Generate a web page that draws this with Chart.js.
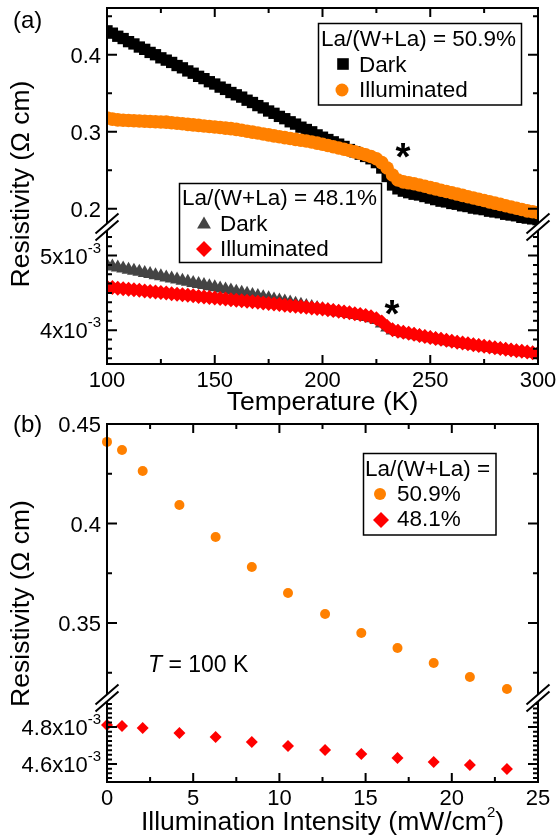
<!DOCTYPE html>
<html>
<head>
<meta charset="utf-8">
<title>Resistivity vs temperature and illumination</title>
<script src="https://cdn.jsdelivr.net/npm/chart.js@4.4.1/dist/chart.umd.min.js"></script>
<style>
  html, body { margin: 0; padding: 0; background: #fff; }
  #page { position: relative; width: 560px; height: 840px; overflow: hidden; }
  #chartA { position: absolute; left: 0; top: 0; }
  #chartB { position: absolute; left: 0; top: 400px; }
</style>
</head>
<body>
<div id="page">
  <canvas id="chartA" width="560" height="430"></canvas>
  <canvas id="chartB" width="560" height="440"></canvas>
</div>
<script>
// ---- panel (a): resistivity vs temperature ----
const tempK = [100, 102.5, 105, 107.5, 110, 112.5, 115, 117.5, 120, 122.5, 125, 127.5, 130, 132.5, 135, 137.5,
  140, 142.5, 145, 147.5, 150, 152.5, 155, 157.5, 160, 162.5, 165, 167.5, 170, 172.5, 175, 177.5,
  180, 182.5, 185, 187.5, 190, 192.5, 195, 197.5, 200, 202.5, 205, 207.5, 210, 212.5, 215, 217.5,
  220, 222.5, 225, 227.5, 230, 232.5, 235, 237.5, 240, 242.5, 245, 247.5, 250, 252.5, 255, 257.5,
  260, 262.5, 265, 267.5, 270, 272.5, 275, 277.5, 280, 282.5, 285, 287.5, 290, 292.5, 295, 297.5, 300];

// La/(W+La) = 50.9 %, ohm cm
const dark509 = [0.431, 0.428, 0.424, 0.421, 0.417, 0.414, 0.410, 0.407, 0.403, 0.400, 0.396, 0.393, 0.390, 0.386, 0.383, 0.379,
  0.376, 0.372, 0.369, 0.365, 0.362, 0.358, 0.355, 0.351, 0.348, 0.345, 0.341, 0.338, 0.334, 0.331, 0.327, 0.324,
  0.320, 0.317, 0.313, 0.310, 0.306, 0.303, 0.300, 0.296, 0.293, 0.290, 0.287, 0.284, 0.281, 0.277, 0.274, 0.271,
  0.268, 0.265, 0.260, 0.253, 0.242, 0.231, 0.226, 0.223, 0.221, 0.219, 0.218, 0.216, 0.214, 0.212, 0.210, 0.209,
  0.207, 0.206, 0.204, 0.203, 0.201, 0.200, 0.199, 0.197, 0.196, 0.195, 0.193, 0.192, 0.191, 0.189, 0.188, 0.187, 0.186];
const illum509 = [0.318, 0.3165, 0.3155, 0.315, 0.3146, 0.3143, 0.314, 0.3137, 0.3134, 0.3131, 0.3128, 0.3125, 0.3118, 0.3111, 0.3104, 0.3097,
  0.309, 0.3083, 0.3076, 0.3069, 0.3062, 0.3055, 0.3048, 0.3041, 0.3032, 0.302, 0.3008, 0.2996, 0.2984, 0.2972, 0.296, 0.2947,
  0.2935, 0.2924, 0.2913, 0.2902, 0.2891, 0.288, 0.2868, 0.2853, 0.2838, 0.2822, 0.2806, 0.279, 0.2774, 0.2757, 0.274, 0.2722,
  0.2702, 0.268, 0.265, 0.26, 0.253, 0.244, 0.2375, 0.235, 0.2338, 0.2326, 0.231, 0.2293, 0.2276, 0.2259, 0.2242, 0.2226,
  0.2209, 0.2192, 0.2175, 0.2158, 0.2142, 0.2125, 0.2108, 0.2091, 0.2075, 0.2058, 0.2041, 0.2024, 0.2008, 0.1991, 0.1974, 0.1963, 0.1952];

// La/(W+La) = 48.1 %, in units of 1e-3 ohm cm
const dark481 = [4.870, 4.855, 4.841, 4.826, 4.811, 4.796, 4.782, 4.767, 4.752, 4.737, 4.723, 4.708, 4.693, 4.678, 4.664, 4.649,
  4.634, 4.619, 4.605, 4.590, 4.575, 4.560, 4.546, 4.531, 4.516, 4.501, 4.487, 4.472, 4.457, 4.442, 4.428, 4.413,
  4.398, 4.384, 4.370, 4.355, 4.340, 4.325, 4.310, 4.296, 4.281, 4.268, 4.255, 4.242, 4.229, 4.216, 4.203, 4.190,
  4.176, 4.160, 4.135, 4.090, 4.035, 3.995, 3.975, 3.960, 3.946, 3.932, 3.918, 3.905, 3.891, 3.878, 3.865, 3.852,
  3.839, 3.827, 3.816, 3.805, 3.794, 3.783, 3.772, 3.762, 3.752, 3.742, 3.733, 3.723, 3.714, 3.705, 3.696, 3.687, 3.678];
const illum481 = [4.578, 4.571, 4.563, 4.556, 4.549, 4.541, 4.534, 4.527, 4.519, 4.512, 4.505, 4.497, 4.490, 4.483, 4.475, 4.468,
  4.461, 4.453, 4.446, 4.439, 4.431, 4.424, 4.417, 4.409, 4.402, 4.395, 4.387, 4.380, 4.373, 4.365, 4.358, 4.351,
  4.343, 4.336, 4.329, 4.321, 4.314, 4.307, 4.299, 4.292, 4.284, 4.275, 4.265, 4.255, 4.244, 4.233, 4.222, 4.210,
  4.197, 4.180, 4.155, 4.110, 4.050, 4.005, 3.985, 3.972, 3.958, 3.944, 3.930, 3.917, 3.903, 3.890, 3.877, 3.864,
  3.851, 3.839, 3.828, 3.817, 3.806, 3.795, 3.784, 3.774, 3.764, 3.754, 3.745, 3.735, 3.726, 3.717, 3.708, 3.699, 3.690];

// ---- panel (b): resistivity vs illumination intensity at T = 100 K ----
const intensity = [0, 0.87, 2.07, 4.2, 6.3, 8.4, 10.5, 12.65, 14.75, 16.85, 18.95, 21.05, 23.2];
const res509 = [0.4410, 0.4369, 0.4264, 0.4093, 0.3932, 0.3781, 0.3651, 0.3545, 0.3450, 0.3374, 0.3299, 0.3229, 0.3168];
const res481 = [4.811, 4.805, 4.795, 4.768, 4.746, 4.719, 4.697, 4.676, 4.654, 4.632, 4.611, 4.595, 4.573]; // 1e-3 ohm cm

// ticks
const tempTicks = [100, 150, 200, 250, 300];
const tempTickLabels = ['100', '150', '200', '250', '300'];
const intenTicks = [0, 5, 10, 15, 20, 25];
const intenTickLabels = ['0', '5', '10', '15', '20', '25'];
const resTicksA = [0.2, 0.3, 0.4];
const resTickLabelsA = ['0.2', '0.3', '0.4'];
const resLowTicksA = [4, 5];
const resLowTickLabelsA = ['4x10', '5x10'];
const resTicksB = [0.35, 0.4, 0.45];
const resTickLabelsB = ['0.35', '0.4', '0.45'];
const resLowTicksB = [4.6, 4.8];
const resLowTickLabelsB = ['4.6x10', '4.8x10'];

const ORANGE = '#ff8000';
const RED = '#ff0000';
const BLACK = '#000000';
const GRAY = '#444444';
const SANS = '"Liberation Sans", Arial, sans-serif';

// min/max of a linear scale so that v1 lands on pixel p1 and v2 on p2
const span = (v1, p1, v2, p2, top, bottom) => {
  const k = (v1 - v2) / (p1 - p2);
  return { min: v1 + (bottom - p1) * k, max: v1 + (top - p1) * k };
};

const valuesIn = (min, max, step) => {
  const out = [];
  for (let k = Math.ceil(min / step - 1e-9); k <= Math.floor(max / step + 1e-9); k++) out.push(+(k * step).toFixed(6));
  return out;
};
const hasValue = (list, v) => list.some((m) => Math.abs(m - v) < 1e-6);
const fontOf = (p) => (p.style || '') + ' ' + p.size + 'px ' + SANS;

function rich(ctx, parts, x, y, align) {
  let w = 0;
  parts.forEach((p) => { ctx.font = fontOf(p); p.w = ctx.measureText(p.t).width; w += p.w; });
  let cx = align === 'right' ? x - w : align === 'center' ? x - w / 2 : x;
  ctx.textAlign = 'left';
  ctx.textBaseline = 'alphabetic';
  parts.forEach((p) => { ctx.font = fontOf(p); ctx.fillText(p.t, cx, y + (p.dy || 0)); cx += p.w; });
}

function yTitle(ctx, x, y) {
  ctx.save();
  ctx.translate(x, y);
  ctx.rotate(-Math.PI / 2);
  rich(ctx, [{ t: 'Resistivity (\u03A9 cm)', size: 26.5 }], 0, 0, 'center');
  ctx.restore();
}

function star(ctx, cx, cy) {
  ctx.font = 'bold 100px ' + SANS;
  let m = ctx.measureText('*');
  const size = 100 * 15 / (m.actualBoundingBoxRight + m.actualBoundingBoxLeft);
  ctx.font = 'bold ' + size + 'px ' + SANS;
  m = ctx.measureText('*');
  ctx.textAlign = 'left';
  ctx.textBaseline = 'alphabetic';
  ctx.fillText('*', cx - (m.actualBoundingBoxRight - m.actualBoundingBoxLeft) / 2,
    cy - (m.actualBoundingBoxDescent - m.actualBoundingBoxAscent) / 2);
}

function marker(ctx, style, x, y, r, color) {
  ctx.fillStyle = color;
  ctx.beginPath();
  if (style === 'rect') ctx.rect(x - r, y - r, 2 * r, 2 * r);
  else if (style === 'circle') ctx.arc(x, y, r, 0, 2 * Math.PI);
  else if (style === 'triangle') {
    ctx.moveTo(x, y - r); ctx.lineTo(x + r * 0.866, y + r / 2); ctx.lineTo(x - r * 0.866, y + r / 2); ctx.closePath();
  } else {
    ctx.moveTo(x, y - r); ctx.lineTo(x + r, y); ctx.lineTo(x, y + r); ctx.lineTo(x - r, y); ctx.closePath();
  }
  ctx.fill();
  ctx.fillStyle = '#000';
}

function box(ctx, x, y, w, h) {
  ctx.lineWidth = 1.5;
  ctx.strokeStyle = '#000';
  ctx.strokeRect(x, y, w, h);
}

function breakMark(ctx, x, y) {
  const dx = 11.5, dy = 10, g = 3.5;
  ctx.save();
  ctx.fillStyle = '#fff';
  ctx.beginPath();
  ctx.moveTo(x - dx, y + dy - g); ctx.lineTo(x + dx, y - dy - g);
  ctx.lineTo(x + dx, y - dy + g); ctx.lineTo(x - dx, y + dy + g);
  ctx.closePath();
  ctx.fill();
  ctx.strokeStyle = '#000';
  ctx.lineWidth = 2;
  ctx.beginPath();
  ctx.moveTo(x - dx, y + dy - g); ctx.lineTo(x + dx, y - dy - g);
  ctx.moveTo(x - dx, y + dy + g); ctx.lineTo(x + dx, y - dy + g);
  ctx.stroke();
  ctx.restore();
}

// inward ticks on all four sides, a broken y axis, tick labels and the extras of each panel
function makeFrame(cfg) {
  return {
    id: 'frame' + cfg.name,
    afterDatasetsDraw(chart) {
      const { ctx, chartArea: a, scales } = chart;
      const xs = scales.x;
      const brk = cfg.breakAt;
      ctx.save();
      ctx.strokeStyle = '#000';
      ctx.lineWidth = 2;
      ctx.beginPath();
      ctx.moveTo(a.left - 1, a.top); ctx.lineTo(a.right + 1, a.top);
      ctx.moveTo(a.left - 1, a.bottom); ctx.lineTo(a.right + 1, a.bottom);
      [a.left, a.right].forEach((x) => {
        ctx.moveTo(x, a.top); ctx.lineTo(x, brk - 4);
        ctx.moveTo(x, brk + 4); ctx.lineTo(x, a.bottom);
      });
      valuesIn(xs.min, xs.max, cfg.xMinorStep).forEach((v) => {
        const px = xs.getPixelForValue(v);
        const len = hasValue(cfg.xMajor, v) ? 9 : 5;
        ctx.moveTo(px, a.bottom); ctx.lineTo(px, a.bottom - len);
        ctx.moveTo(px, a.top); ctx.lineTo(px, a.top + len);
      });
      cfg.ySegs.forEach((seg) => {
        const sc = scales[seg.id];
        const lo = seg.upper ? a.top : brk + 4;
        const hi = seg.upper ? brk - 4 : a.bottom;
        valuesIn(sc.min, sc.max, seg.minorStep).forEach((v) => {
          const py = sc.getPixelForValue(v);
          if (py < lo - 0.5 || py > hi + 0.5) return;
          const len = hasValue(seg.major, v) ? 10 : 5;
          ctx.moveTo(a.left, py); ctx.lineTo(a.left + len, py);
          ctx.moveTo(a.right, py); ctx.lineTo(a.right - len, py);
        });
      });
      ctx.stroke();
      breakMark(ctx, a.left, brk);
      breakMark(ctx, a.right, brk);

      ctx.fillStyle = '#000';
      cfg.xMajor.forEach((v, i) => {
        rich(ctx, [{ t: cfg.xLabels[i], size: 22 }], xs.getPixelForValue(v), a.bottom + 23, 'center');
      });
      cfg.ySegs.forEach((seg) => {
        const sc = scales[seg.id];
        seg.major.forEach((v, i) => {
          const parts = [{ t: seg.labels[i], size: 22 }];
          if (seg.exp) parts.push({ t: seg.exp, size: 15, dy: -11 });
          rich(ctx, parts, a.left - 6, sc.getPixelForValue(v) + 8, 'right');
        });
      });
      cfg.decorate(ctx, a);
      ctx.restore();
    }
  };
}

const pointSet = (label, xs, ys, axis, style, r, color, order, clip) => ({
  label,
  data: xs.map((x, i) => ({ x, y: ys[i] })),
  yAxisID: axis,
  pointStyle: style,
  pointRadius: r,
  pointHoverRadius: r,
  pointBackgroundColor: color,
  pointBorderWidth: 0,
  showLine: false,
  order,
  clip
});

const baseOptions = (padding, scales) => ({
  responsive: false,
  animation: false,
  devicePixelRatio: 1,
  events: [],
  layout: { padding },
  plugins: { legend: { display: false }, tooltip: { enabled: false } },
  scales
});

// ---------- panel (a) ----------
const areaA = { top: 6, bottom: 364 };
const clipA = { left: 0, right: 0, top: false, bottom: false };
new Chart(document.getElementById('chartA'), {
  type: 'scatter',
  data: {
    datasets: [
      pointSet('50.9% Illuminated', tempK, illum509, 'yTop', 'circle', 6.8, ORANGE, 1, clipA),
      pointSet('50.9% Dark', tempK, dark509, 'yTop', 'rect', 8, BLACK, 2, clipA),
      pointSet('48.1% Illuminated', tempK, illum481, 'yBot', 'rectRot', 7.5, RED, 1, clipA),
      pointSet('48.1% Dark', tempK, dark481, 'yBot', 'triangle', 8, GRAY, 2, clipA)
    ]
  },
  options: baseOptions({ left: 107, right: 22, top: areaA.top, bottom: 430 - areaA.bottom }, {
    x: { type: 'linear', min: 100, max: 300, display: false },
    yTop: { type: 'linear', display: false, ...span(0.4, 53, 0.2, 208, areaA.top, areaA.bottom) },
    yBot: { type: 'linear', display: false, ...span(5, 255, 4, 330, areaA.top, areaA.bottom) }
  }),
  plugins: [makeFrame({
    name: 'A',
    breakAt: 227,
    xMajor: tempTicks, xLabels: tempTickLabels, xMinorStep: 25,
    ySegs: [
      { id: 'yTop', upper: true, major: resTicksA, labels: resTickLabelsA, minorStep: 0.05 },
      { id: 'yBot', upper: false, major: resLowTicksA, labels: resLowTickLabelsA, exp: '-3', minorStep: 0.125 }
    ],
    decorate(ctx, a) {
      rich(ctx, [{ t: 'Temperature (K)', size: 26.5 }], (a.left + a.right) / 2, 410, 'center');
      yTitle(ctx, 29, 184);
      rich(ctx, [{ t: '(a)', size: 24 }], 13, 28, 'left');

      box(ctx, 318.5, 23.5, 203, 81.5);
      rich(ctx, [{ t: 'La/(W+La) = 50.9%', size: 22.5 }], 321, 46, 'left');
      marker(ctx, 'rect', 343, 64, 5.8, BLACK);
      rich(ctx, [{ t: 'Dark', size: 22.5 }], 359, 72, 'left');
      marker(ctx, 'circle', 342, 90, 6.5, ORANGE);
      rich(ctx, [{ t: 'Illuminated', size: 22.5 }], 359, 97, 'left');

      box(ctx, 179.5, 183.5, 202, 79);
      rich(ctx, [{ t: 'La/(W+La) = 48.1%', size: 22.5 }], 182, 205, 'left');
      marker(ctx, 'triangle', 204, 224.6, 8, GRAY);
      rich(ctx, [{ t: 'Dark', size: 22.5 }], 220, 231, 'left');
      marker(ctx, 'diamond', 204, 249, 8, RED);
      rich(ctx, [{ t: 'Illuminated', size: 22.5 }], 220, 256, 'left');

      star(ctx, 403, 150);
      star(ctx, 392, 307);
    }
  })]
});

// ---------- panel (b) ----------
const areaB = { top: 24, bottom: 382 };
new Chart(document.getElementById('chartB'), {
  type: 'scatter',
  data: {
    datasets: [
      pointSet('50.9%', intensity, res509, 'yTop', 'circle', 5, ORANGE, 1, false),
      pointSet('48.1%', intensity, res481, 'yBot', 'rectRot', 6, RED, 1, false)
    ]
  },
  options: baseOptions({ left: 107, right: 22, top: areaB.top, bottom: 440 - areaB.bottom }, {
    x: { type: 'linear', min: 0, max: 25, display: false },
    yTop: { type: 'linear', display: false, ...span(0.45, 24, 0.35, 223, areaB.top, areaB.bottom) },
    yBot: { type: 'linear', display: false, ...span(4.8, 327, 4.6, 364, areaB.top, areaB.bottom) }
  }),
  plugins: [makeFrame({
    name: 'B',
    breakAt: 298,
    xMajor: intenTicks, xLabels: intenTickLabels, xMinorStep: 2.5,
    ySegs: [
      { id: 'yTop', upper: true, major: resTicksB, labels: resTickLabelsB, minorStep: 0.025 },
      { id: 'yBot', upper: false, major: resLowTicksB, labels: resLowTickLabelsB, exp: '-3', minorStep: 0.025 }
    ],
    decorate(ctx, a) {
      rich(ctx, [
        { t: 'Illumination Intensity (mW/cm', size: 26.5 },
        { t: '2', size: 15, dy: -13 },
        { t: ')', size: 26.5 }
      ], (a.left + a.right) / 2, 430, 'center');
      yTitle(ctx, 29, 203.5);
      rich(ctx, [{ t: '(b)', size: 24 }], 13, 32, 'left');

      box(ctx, 363.5, 53.5, 132.5, 81.5);
      rich(ctx, [{ t: 'La/(W+La) =', size: 22.5 }], 365, 76, 'left');
      marker(ctx, 'circle', 380, 94, 6, ORANGE);
      rich(ctx, [{ t: '50.9%', size: 22.5 }], 397, 101, 'left');
      marker(ctx, 'diamond', 381, 120, 8, RED);
      rich(ctx, [{ t: '48.1%', size: 22.5 }], 397, 126, 'left');

      rich(ctx, [{ t: 'T', size: 23, style: 'italic' }, { t: ' = 100 K', size: 23 }], 148, 272, 'left');
    }
  })]
});
</script>
</body>
</html>
